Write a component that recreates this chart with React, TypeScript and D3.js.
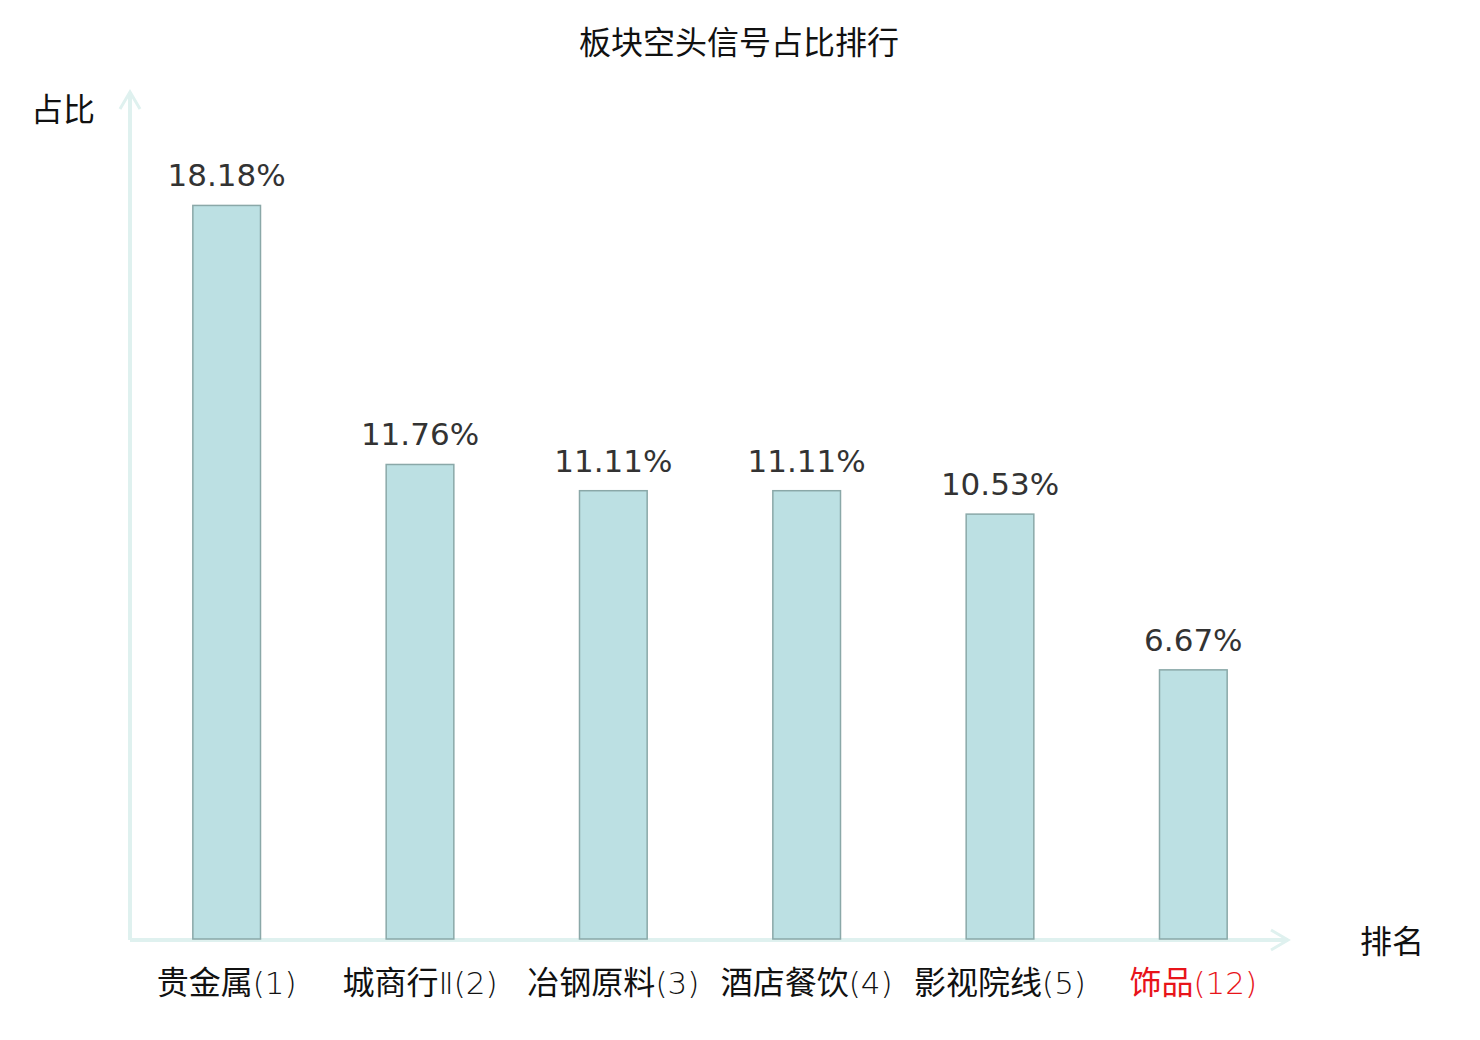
import { useRef, useEffect } from "react";
import * as d3 from "d3";

// 板块名称与排名
const sectors = ["贵金属", "城商行Ⅱ", "冶钢原料", "酒店餐饮", "影视院线", "饰品"];
const ranks = [1, 2, 3, 4, 5, 12];
// 空头信号占比（%）
const shares = [18.18, 11.76, 11.11, 11.11, 10.53, 6.67];
const highlight = "饰品";

const W = 1480;
const H = 1040;

const App = () => {
  const ref = useRef<SVGSVGElement>(null);

  useEffect(() => {
    if (!ref.current) return;
    const svg = d3.select(ref.current);
    const cjk = "'Noto Sans CJK SC', 'Noto Sans', sans-serif";
    const num = "'DejaVu Sans', sans-serif";
    const axisColor = "#dff1ef";

    const x0 = 130;
    const x1 = 1290;
    const yBase = 939;

    const x = d3
      .scaleBand<string>()
      .domain(sectors)
      .range([x0, x1])
      .paddingInner(0.65)
      .paddingOuter(0.325);

    const y = d3.scaleLinear().domain([0, 20]).range([yBase, yBase - 807]);

    svg
      .append("text")
      .attr("x", W / 2 - 1)
      .attr("y", 54)
      .attr("text-anchor", "middle")
      .style("font-family", cjk)
      .style("font-size", "32px")
      .style("fill", "#111")
      .text("板块空头信号占比排行");

    // 坐标轴
    const axes = svg.append("g").attr("stroke", axisColor).attr("stroke-width", 4).attr("fill", "none");
    axes.append("line").attr("x1", x0).attr("x2", x0).attr("y1", yBase + 1).attr("y2", 92);
    axes.append("path").attr("d", `M${x0 - 10},${109} L${x0},${92} L${x0 + 10},${109}`).attr("stroke-width", 3);
    axes.append("line").attr("x1", x0).attr("x2", 1288).attr("y1", yBase + 1).attr("y2", yBase + 1);
    axes.append("path").attr("d", `M${1271},${yBase - 9} L${1288},${yBase + 1} L${1271},${yBase + 11}`).attr("stroke-width", 3);

    svg
      .append("text")
      .attr("x", 31)
      .attr("y", 121)
      .style("font-family", cjk)
      .style("font-size", "32px")
      .style("fill", "#111")
      .text("占比");

    svg
      .append("text")
      .attr("x", 1360)
      .attr("y", 953)
      .style("font-family", cjk)
      .style("font-size", "32px")
      .style("fill", "#111")
      .text("排名");

    const data = sectors.map((s, i) => ({ name: s, rank: ranks[i], value: shares[i] }));

    svg
      .append("g")
      .selectAll("rect")
      .data(data)
      .enter()
      .append("rect")
      .attr("x", (d) => x(d.name)!)
      .attr("y", (d) => y(d.value))
      .attr("width", x.bandwidth())
      .attr("height", (d) => yBase - y(d.value))
      .attr("fill", "#bce0e3")
      .attr("stroke", "#8aa8a8")
      .attr("stroke-width", 1.5);

    svg
      .append("g")
      .selectAll("text")
      .data(data)
      .enter()
      .append("text")
      .attr("x", (d) => x(d.name)! + x.bandwidth() / 2)
      .attr("y", (d) => y(d.value) - 19)
      .attr("text-anchor", "middle")
      .style("font-family", num)
      .style("font-size", "31px")
      .style("fill", "#333")
      .text((d) => `${d.value.toFixed(2)}%`);

    // 类目标签：汉字用黑体，罗马数字与括号用细体
    const labels = svg
      .append("g")
      .selectAll("text")
      .data(data)
      .enter()
      .append("text")
      .attr("x", (d) => x(d.name)! + x.bandwidth() / 2)
      .attr("y", 994)
      .attr("text-anchor", "middle")
      .style("font-family", cjk)
      .style("font-size", "32px")
      .style("fill", (d) => (d.name === highlight ? "#e8141a" : "#111"));

    labels.append("tspan").text((d) => d.name.replace("Ⅱ", ""));
    labels
      .append("tspan")
      .style("font-family", num)
      .style("font-weight", "200")
      .style("font-size", "31px")
      .text((d) => `${d.name.includes("Ⅱ") ? "Ⅱ" : ""}(${d.rank})`);

    return () => {
      svg.selectAll("*").remove();
    };
  }, []);

  return (
    <svg
      ref={ref}
      width={W}
      height={H}
      style={{ position: "absolute", left: 0, top: 0, background: "#fff" }}
    />
  );
};

export default App;
